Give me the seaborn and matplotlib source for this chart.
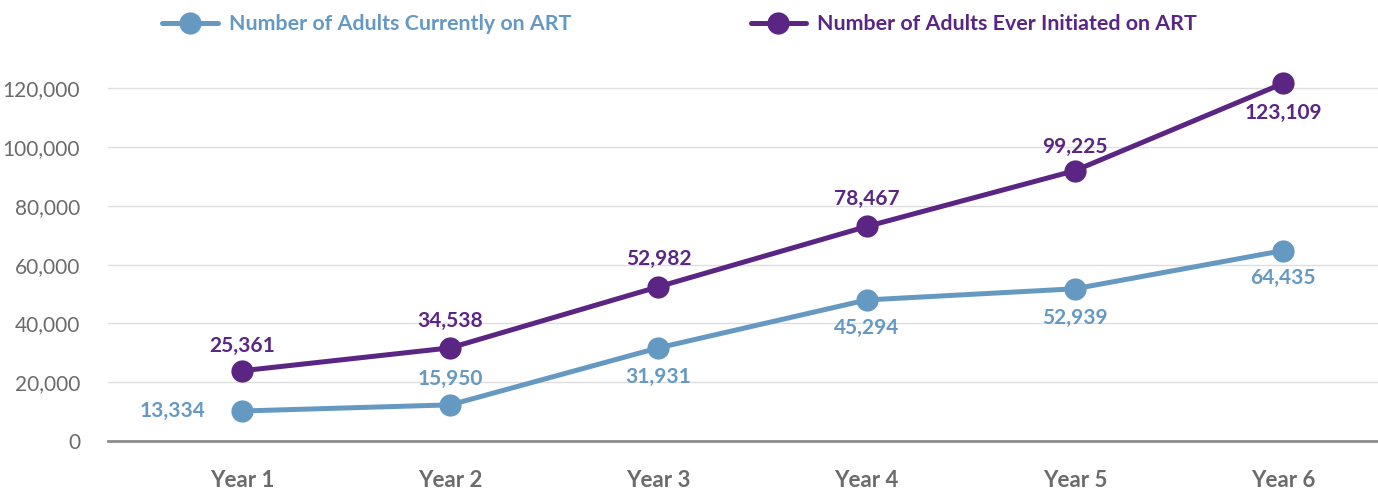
import pandas as pd
import numpy as np
import matplotlib.pyplot as plt
import seaborn as sns
from matplotlib.ticker import FuncFormatter

sns.set_theme(style='white')
plt.rcParams['font.family'] = ['Lato', 'DejaVu Sans']

# данные (положение точек на графике и подписи к ним)
years = ['Year 1', 'Year 2', 'Year 3', 'Year 4', 'Year 5', 'Year 6']
current_vals = [10200, 12300, 31700, 48000, 51800, 64800]
current_labels = ['13,334', '15,950', '31,931', '45,294', '52,939', '64,435']
ever_vals = [23900, 31700, 52500, 73000, 92000, 121700]
ever_labels = ['25,361', '34,538', '52,982', '78,467', '99,225', '123,109']

name_cur = 'Number of Adults Currently on ART'
name_ever = 'Number of Adults Ever Initiated on ART'
blue = '#6699c2'
purple = '#5b2683'

df = pd.DataFrame({
    'year': years * 2,
    'value': current_vals + ever_vals,
    'series': [name_cur] * 6 + [name_ever] * 6,
})

fig = plt.figure(figsize=(13.78, 4.93), dpi=100)
ax = fig.add_axes([0.0784, 0.1055, 0.9216, 0.745])

sns.lineplot(data=df, x='year', y='value', hue='series',
             palette={name_cur: blue, name_ever: purple},
             marker='o', markersize=16, markeredgewidth=0, linewidth=3.6,
             ax=ax, clip_on=False, sort=False)

ax.set_xlim(-0.644, 5.456)
ax.set_ylim(0, 125000)
ax.set_yticks(np.arange(0, 120001, 20000))
ax.yaxis.set_major_formatter(FuncFormatter(lambda v, p: f'{int(v):,}'))
ax.grid(axis='y', color='#dedede', linewidth=1)
ax.set_axisbelow(True)
for s in ['top', 'right', 'left']:
    ax.spines[s].set_visible(False)
ax.spines['bottom'].set_color('#8c8c8c')
ax.spines['bottom'].set_linewidth(2)
ax.set_xlabel('')
ax.set_ylabel('')
ax.tick_params(axis='y', length=0, pad=20, labelsize=15, labelcolor='#6b6b6b')
ax.tick_params(axis='x', length=0, pad=21, labelsize=16, labelcolor='#6b6b6b')
for t in ax.get_xticklabels():
    t.set_fontweight('bold')

# подписи значений
ever_off = [(0, 25), (0, 27), (0, 28), (0, 28), (0, 24), (0, -30)]
cur_off = [(-70, 0), (0, 26), (0, -29), (0, -28), (0, -29), (0, -27)]
for i in range(6):
    ax.annotate(ever_labels[i], (i, ever_vals[i]), xytext=ever_off[i],
                textcoords='offset pixels', ha='center', va='center',
                fontsize=15, fontweight='bold', color=purple)
    ax.annotate(current_labels[i], (i, current_vals[i]), xytext=cur_off[i],
                textcoords='offset pixels', ha='center', va='center',
                fontsize=15, fontweight='bold', color=blue)

ax.legend_.remove()
handles, labels = ax.get_legend_handles_labels()
leg = fig.legend(handles, labels, loc='upper left', ncol=2,
                 bbox_to_anchor=(143 / 1378, 1 + 5 / 493), frameon=False,
                 handlelength=2.6, handletextpad=0.5,
                 columnspacing=8.4, labelcolor='linecolor',
                 prop={'weight': 'bold', 'size': 15.4})

fig.savefig('out.png', dpi=100)
